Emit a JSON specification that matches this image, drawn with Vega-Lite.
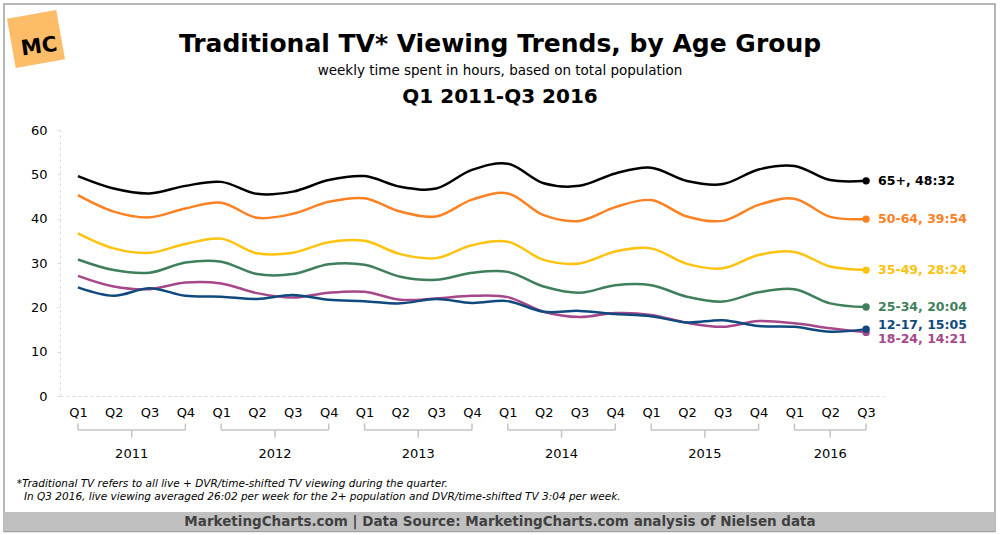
{
  "$schema": "https://vega.github.io/schema/vega-lite/v6.json",
  "width": 824,
  "height": 266,
  "autosize": "none",
  "padding": {"left": 60, "top": 130, "right": 116, "bottom": 139},
  "background": "white",
  "title": {
    "text": "Traditional TV* Viewing Trends, by Age Group",
    "subtitle": "weekly time spent in hours, based on total population",
    "anchor": "middle",
    "frame": "group",
    "dx": 28,
    "offset": -74,
    "font": "DejaVu Sans",
    "fontSize": 25,
    "fontWeight": "bold",
    "color": "#000000",
    "subtitleFont": "DejaVu Sans",
    "subtitleFontSize": 13.5,
    "subtitleColor": "#000000",
    "subtitlePadding": 7
  },
  "config": {
    "view": {"stroke": null},
    "font": "DejaVu Sans",
    "axis": {"labelFont": "DejaVu Sans", "labelColor": "#000000"}
  },
  "resolve": {"scale": {"x": "independent", "y": "independent"}},
  "layer": [
    {
      "data": {"values": [{}]},
      "mark": {"type": "rect", "filled": false, "stroke": "#a0a0a0", "strokeWidth": 1.5},
      "encoding": {
        "x": {"datum": -1.063, "type": "quantitative", "scale": {"domain": [0.5, 23.5], "nice": false, "zero": false}, "axis": null},
        "x2": {"datum": 26.598},
        "y": {"datum": 88.42, "type": "quantitative", "scale": {"domain": [0, 60]}, "axis": null},
        "y2": {"datum": -30.56}
      }
    },
    {
      "data": {"values": [{}]},
      "mark": {"type": "rect", "color": "#c0c0c0"},
      "encoding": {
        "x": {"datum": -1.063, "type": "quantitative", "scale": {"domain": [0.5, 23.5], "nice": false, "zero": false}, "axis": null},
        "x2": {"datum": 26.598},
        "y": {"datum": -26.17, "type": "quantitative", "scale": {"domain": [0, 60]}, "axis": null},
        "y2": {"datum": -30.45}
      }
    },
    {
      "data": {"values": [{"text": "MarketingCharts.com | Data Source: MarketingCharts.com analysis of Nielsen data"}]},
      "mark": {"type": "text", "font": "DejaVu Sans", "fontSize": 13.5, "fontWeight": "bold", "color": "#404040", "align": "center", "baseline": "middle"},
      "encoding": {
        "x": {"datum": 12.782, "type": "quantitative", "scale": {"domain": [0.5, 23.5], "nice": false, "zero": false}, "axis": null},
        "y": {"datum": -28.35, "type": "quantitative", "scale": {"domain": [0, 60]}, "axis": null},
        "text": {"field": "text"}
      }
    },
    {
      "data": {"values": [{"text": "*Traditional TV refers to all live + DVR/time-shifted TV viewing during the quarter."}]},
      "mark": {"type": "text", "font": "DejaVu Sans", "fontSize": 10.5, "fontStyle": "italic", "color": "#000000", "align": "left", "baseline": "middle"},
      "encoding": {
        "x": {"datum": -0.709, "type": "quantitative", "scale": {"domain": [0.5, 23.5], "nice": false, "zero": false}, "axis": null},
        "y": {"datum": -19.85, "type": "quantitative", "scale": {"domain": [0, 60]}, "axis": null},
        "text": {"field": "text"}
      }
    },
    {
      "data": {"values": [{"text": "In Q3 2016, live viewing averaged 26:02 per week for the 2+ population and DVR/time-shifted TV 3:04 per week."}]},
      "mark": {"type": "text", "font": "DejaVu Sans", "fontSize": 10.5, "fontStyle": "italic", "color": "#000000", "align": "left", "baseline": "middle"},
      "encoding": {
        "x": {"datum": -0.505, "type": "quantitative", "scale": {"domain": [0.5, 23.5], "nice": false, "zero": false}, "axis": null},
        "y": {"datum": -22.85, "type": "quantitative", "scale": {"domain": [0, 60]}, "axis": null},
        "text": {"field": "text"}
      }
    },
    {
      "data": {"values": [{"text": "Q1 2011-Q3 2016"}]},
      "mark": {"type": "text", "font": "DejaVu Sans", "fontSize": 20, "fontWeight": "bold", "color": "#000000", "align": "center", "baseline": "middle"},
      "encoding": {
        "x": {"datum": 12.782, "type": "quantitative", "scale": {"domain": [0.5, 23.5], "nice": false, "zero": false}, "axis": null},
        "y": {"datum": 67.44, "type": "quantitative", "scale": {"domain": [0, 60]}, "axis": null},
        "text": {"field": "text"}
      }
    },
    {
      "data": {"values": [{}]},
      "mark": {"type": "point", "shape": "square", "filled": true, "opacity": 1, "color": "#fcbc68", "size": 2500, "angle": -10},
      "encoding": {
        "x": {"datum": -0.17, "type": "quantitative", "scale": {"domain": [0.5, 23.5], "nice": false, "zero": false}, "axis": null},
        "y": {"datum": 80.53, "type": "quantitative", "scale": {"domain": [0, 60]}, "axis": null}
      }
    },
    {
      "data": {"values": [{"text": "MC"}]},
      "mark": {"type": "text", "font": "DejaVu Sans", "fontSize": 21, "fontWeight": "bold", "color": "#000000", "align": "center", "baseline": "middle", "angle": -8},
      "encoding": {
        "x": {"datum": -0.08, "type": "quantitative", "scale": {"domain": [0.5, 23.5], "nice": false, "zero": false}, "axis": null},
        "y": {"datum": 78.7, "type": "quantitative", "scale": {"domain": [0, 60]}, "axis": null},
        "text": {"field": "text"}
      }
    },
    {
      "data": {
        "name": "years",
        "values": [
          {"year": "2011", "first": 1, "last": 4},
          {"year": "2012", "first": 5, "last": 8},
          {"year": "2013", "first": 9, "last": 12},
          {"year": "2014", "first": 13, "last": 16},
          {"year": "2015", "first": 17, "last": 20},
          {"year": "2016", "first": 21, "last": 23}
        ]
      },
      "transform": [{"calculate": "(datum.first + datum.last) / 2", "as": "mid"}],
      "layer": [
        {
          "mark": {"type": "rule", "color": "#c4c4c4", "strokeWidth": 1.5},
          "encoding": {
            "x": {"field": "first", "type": "quantitative", "scale": {"domain": [0.5, 23.5], "nice": false, "zero": false}, "axis": null},
            "x2": {"field": "last"},
            "y": {"datum": -7.67, "type": "quantitative", "scale": {"domain": [0, 60]}, "axis": null}
          }
        },
        {
          "mark": {"type": "rule", "color": "#c4c4c4", "strokeWidth": 1.5},
          "encoding": {
            "x": {"field": "first", "type": "quantitative", "scale": {"domain": [0.5, 23.5], "nice": false, "zero": false}, "axis": null},
            "y": {"datum": -6.2, "type": "quantitative", "scale": {"domain": [0, 60]}, "axis": null},
            "y2": {"datum": -7.67}
          }
        },
        {
          "mark": {"type": "rule", "color": "#c4c4c4", "strokeWidth": 1.5},
          "encoding": {
            "x": {"field": "last", "type": "quantitative", "scale": {"domain": [0.5, 23.5], "nice": false, "zero": false}, "axis": null},
            "y": {"datum": -6.2, "type": "quantitative", "scale": {"domain": [0, 60]}, "axis": null},
            "y2": {"datum": -7.67}
          }
        },
        {
          "mark": {"type": "rule", "color": "#c4c4c4", "strokeWidth": 1.5},
          "encoding": {
            "x": {"field": "mid", "type": "quantitative", "scale": {"domain": [0.5, 23.5], "nice": false, "zero": false}, "axis": null},
            "y": {"datum": -7.67, "type": "quantitative", "scale": {"domain": [0, 60]}, "axis": null},
            "y2": {"datum": -9.4}
          }
        },
        {
          "mark": {"type": "text", "font": "DejaVu Sans", "fontSize": 13, "color": "#000000", "align": "center", "baseline": "middle"},
          "encoding": {
            "x": {"field": "mid", "type": "quantitative", "scale": {"domain": [0.5, 23.5], "nice": false, "zero": false}, "axis": null},
            "y": {"datum": -13.15, "type": "quantitative", "scale": {"domain": [0, 60]}, "axis": null},
            "text": {"field": "year"}
          }
        }
      ]
    },
    {
      "data": {
        "values": [
          {"period": "2011 Q1", "group": "65+", "hours": 49.6},
          {"period": "2011 Q2", "group": "65+", "hours": 46.8},
          {"period": "2011 Q3", "group": "65+", "hours": 45.7},
          {"period": "2011 Q4", "group": "65+", "hours": 47.4},
          {"period": "2012 Q1", "group": "65+", "hours": 48.3},
          {"period": "2012 Q2", "group": "65+", "hours": 45.6},
          {"period": "2012 Q3", "group": "65+", "hours": 46.1},
          {"period": "2012 Q4", "group": "65+", "hours": 48.7},
          {"period": "2013 Q1", "group": "65+", "hours": 49.6},
          {"period": "2013 Q2", "group": "65+", "hours": 47.2},
          {"period": "2013 Q3", "group": "65+", "hours": 46.8},
          {"period": "2013 Q4", "group": "65+", "hours": 51.0},
          {"period": "2014 Q1", "group": "65+", "hours": 52.4},
          {"period": "2014 Q2", "group": "65+", "hours": 48.0},
          {"period": "2014 Q3", "group": "65+", "hours": 47.4},
          {"period": "2014 Q4", "group": "65+", "hours": 50.2},
          {"period": "2015 Q1", "group": "65+", "hours": 51.5},
          {"period": "2015 Q2", "group": "65+", "hours": 48.5},
          {"period": "2015 Q3", "group": "65+", "hours": 47.8},
          {"period": "2015 Q4", "group": "65+", "hours": 51.1},
          {"period": "2016 Q1", "group": "65+", "hours": 51.9},
          {"period": "2016 Q2", "group": "65+", "hours": 48.7},
          {"period": "2016 Q3", "group": "65+", "hours": 48.5333},
          {"period": "2011 Q1", "group": "50-64", "hours": 45.3},
          {"period": "2011 Q2", "group": "50-64", "hours": 41.6},
          {"period": "2011 Q3", "group": "50-64", "hours": 40.3},
          {"period": "2011 Q4", "group": "50-64", "hours": 42.3},
          {"period": "2012 Q1", "group": "50-64", "hours": 43.6},
          {"period": "2012 Q2", "group": "50-64", "hours": 40.2},
          {"period": "2012 Q3", "group": "50-64", "hours": 41.1},
          {"period": "2012 Q4", "group": "50-64", "hours": 43.8},
          {"period": "2013 Q1", "group": "50-64", "hours": 44.6},
          {"period": "2013 Q2", "group": "50-64", "hours": 41.6},
          {"period": "2013 Q3", "group": "50-64", "hours": 40.5},
          {"period": "2013 Q4", "group": "50-64", "hours": 44.3},
          {"period": "2014 Q1", "group": "50-64", "hours": 45.7},
          {"period": "2014 Q2", "group": "50-64", "hours": 40.8},
          {"period": "2014 Q3", "group": "50-64", "hours": 39.5},
          {"period": "2014 Q4", "group": "50-64", "hours": 42.6},
          {"period": "2015 Q1", "group": "50-64", "hours": 44.2},
          {"period": "2015 Q2", "group": "50-64", "hours": 40.5},
          {"period": "2015 Q3", "group": "50-64", "hours": 39.5},
          {"period": "2015 Q4", "group": "50-64", "hours": 43.1},
          {"period": "2016 Q1", "group": "50-64", "hours": 44.5},
          {"period": "2016 Q2", "group": "50-64", "hours": 40.4},
          {"period": "2016 Q3", "group": "50-64", "hours": 39.9},
          {"period": "2011 Q1", "group": "35-49", "hours": 36.7},
          {"period": "2011 Q2", "group": "35-49", "hours": 33.3},
          {"period": "2011 Q3", "group": "35-49", "hours": 32.3},
          {"period": "2011 Q4", "group": "35-49", "hours": 34.3},
          {"period": "2012 Q1", "group": "35-49", "hours": 35.5},
          {"period": "2012 Q2", "group": "35-49", "hours": 32.2},
          {"period": "2012 Q3", "group": "35-49", "hours": 32.3},
          {"period": "2012 Q4", "group": "35-49", "hours": 34.7},
          {"period": "2013 Q1", "group": "35-49", "hours": 35.0},
          {"period": "2013 Q2", "group": "35-49", "hours": 32.0},
          {"period": "2013 Q3", "group": "35-49", "hours": 31.1},
          {"period": "2013 Q4", "group": "35-49", "hours": 34.0},
          {"period": "2014 Q1", "group": "35-49", "hours": 34.8},
          {"period": "2014 Q2", "group": "35-49", "hours": 30.7},
          {"period": "2014 Q3", "group": "35-49", "hours": 29.9},
          {"period": "2014 Q4", "group": "35-49", "hours": 32.6},
          {"period": "2015 Q1", "group": "35-49", "hours": 33.3},
          {"period": "2015 Q2", "group": "35-49", "hours": 29.8},
          {"period": "2015 Q3", "group": "35-49", "hours": 28.8},
          {"period": "2015 Q4", "group": "35-49", "hours": 31.8},
          {"period": "2016 Q1", "group": "35-49", "hours": 32.5},
          {"period": "2016 Q2", "group": "35-49", "hours": 29.2},
          {"period": "2016 Q3", "group": "35-49", "hours": 28.4},
          {"period": "2011 Q1", "group": "25-34", "hours": 30.8},
          {"period": "2011 Q2", "group": "25-34", "hours": 28.4},
          {"period": "2011 Q3", "group": "25-34", "hours": 27.8},
          {"period": "2011 Q4", "group": "25-34", "hours": 30.1},
          {"period": "2012 Q1", "group": "25-34", "hours": 30.3},
          {"period": "2012 Q2", "group": "25-34", "hours": 27.5},
          {"period": "2012 Q3", "group": "25-34", "hours": 27.5},
          {"period": "2012 Q4", "group": "25-34", "hours": 29.7},
          {"period": "2013 Q1", "group": "25-34", "hours": 29.6},
          {"period": "2013 Q2", "group": "25-34", "hours": 26.9},
          {"period": "2013 Q3", "group": "25-34", "hours": 26.2},
          {"period": "2013 Q4", "group": "25-34", "hours": 27.8},
          {"period": "2014 Q1", "group": "25-34", "hours": 28.0},
          {"period": "2014 Q2", "group": "25-34", "hours": 24.7},
          {"period": "2014 Q3", "group": "25-34", "hours": 23.3},
          {"period": "2014 Q4", "group": "25-34", "hours": 25.0},
          {"period": "2015 Q1", "group": "25-34", "hours": 25.0},
          {"period": "2015 Q2", "group": "25-34", "hours": 22.4},
          {"period": "2015 Q3", "group": "25-34", "hours": 21.3},
          {"period": "2015 Q4", "group": "25-34", "hours": 23.4},
          {"period": "2016 Q1", "group": "25-34", "hours": 24.1},
          {"period": "2016 Q2", "group": "25-34", "hours": 20.9},
          {"period": "2016 Q3", "group": "25-34", "hours": 20.0667},
          {"period": "2011 Q1", "group": "18-24", "hours": 27.1},
          {"period": "2011 Q2", "group": "18-24", "hours": 24.7},
          {"period": "2011 Q3", "group": "18-24", "hours": 24.1},
          {"period": "2011 Q4", "group": "18-24", "hours": 25.6},
          {"period": "2012 Q1", "group": "18-24", "hours": 25.4},
          {"period": "2012 Q2", "group": "18-24", "hours": 23.2},
          {"period": "2012 Q3", "group": "18-24", "hours": 22.2},
          {"period": "2012 Q4", "group": "18-24", "hours": 23.3},
          {"period": "2013 Q1", "group": "18-24", "hours": 23.5},
          {"period": "2013 Q2", "group": "18-24", "hours": 21.7},
          {"period": "2013 Q3", "group": "18-24", "hours": 22.0},
          {"period": "2013 Q4", "group": "18-24", "hours": 22.6},
          {"period": "2014 Q1", "group": "18-24", "hours": 22.3},
          {"period": "2014 Q2", "group": "18-24", "hours": 19.0},
          {"period": "2014 Q3", "group": "18-24", "hours": 17.8},
          {"period": "2014 Q4", "group": "18-24", "hours": 18.7},
          {"period": "2015 Q1", "group": "18-24", "hours": 18.3},
          {"period": "2015 Q2", "group": "18-24", "hours": 16.5},
          {"period": "2015 Q3", "group": "18-24", "hours": 15.6},
          {"period": "2015 Q4", "group": "18-24", "hours": 16.9},
          {"period": "2016 Q1", "group": "18-24", "hours": 16.4},
          {"period": "2016 Q2", "group": "18-24", "hours": 15.3},
          {"period": "2016 Q3", "group": "18-24", "hours": 14.35},
          {"period": "2011 Q1", "group": "12-17", "hours": 24.5},
          {"period": "2011 Q2", "group": "12-17", "hours": 22.6},
          {"period": "2011 Q3", "group": "12-17", "hours": 24.3},
          {"period": "2011 Q4", "group": "12-17", "hours": 22.6},
          {"period": "2012 Q1", "group": "12-17", "hours": 22.4},
          {"period": "2012 Q2", "group": "12-17", "hours": 21.9},
          {"period": "2012 Q3", "group": "12-17", "hours": 22.8},
          {"period": "2012 Q4", "group": "12-17", "hours": 21.7},
          {"period": "2013 Q1", "group": "12-17", "hours": 21.4},
          {"period": "2013 Q2", "group": "12-17", "hours": 20.9},
          {"period": "2013 Q3", "group": "12-17", "hours": 21.9},
          {"period": "2013 Q4", "group": "12-17", "hours": 21.0},
          {"period": "2014 Q1", "group": "12-17", "hours": 21.4},
          {"period": "2014 Q2", "group": "12-17", "hours": 19.0},
          {"period": "2014 Q3", "group": "12-17", "hours": 19.2},
          {"period": "2014 Q4", "group": "12-17", "hours": 18.5},
          {"period": "2015 Q1", "group": "12-17", "hours": 18.0},
          {"period": "2015 Q2", "group": "12-17", "hours": 16.6},
          {"period": "2015 Q3", "group": "12-17", "hours": 17.1},
          {"period": "2015 Q4", "group": "12-17", "hours": 15.8},
          {"period": "2016 Q1", "group": "12-17", "hours": 15.6},
          {"period": "2016 Q2", "group": "12-17", "hours": 14.5},
          {"period": "2016 Q3", "group": "12-17", "hours": 15.0833}
        ]
      },
      "encoding": {
        "x": {
          "field": "period",
          "type": "ordinal",
          "scale": {"type": "point", "padding": 0.5},
          "axis": {
            "title": null,
            "labelExpr": "split(datum.label, ' ')[1]",
            "labelAngle": 0,
            "labelFontSize": 13,
            "labelPadding": 10,
            "ticks": false,
            "tickSize": 0,
            "domainColor": "#dddddd",
            "domainDash": [3, 3],
            "grid": false
          }
        },
        "y": {
          "field": "hours",
          "type": "quantitative",
          "scale": {"domain": [0, 60]},
          "axis": {
            "title": null,
            "orient": "left",
            "values": [0, 10, 20, 30, 40, 50, 60],
            "labelFontSize": 13,
            "labelPadding": 10,
            "tickSize": 3,
            "tickColor": "#dddddd",
            "domainColor": "#dddddd",
            "domainWidth": 1,
            "domainDash": [3, 3],
            "grid": false
          }
        },
        "color": {
          "field": "group",
          "type": "nominal",
          "legend": null,
          "scale": {
            "domain": ["65+", "50-64", "35-49", "25-34", "12-17", "18-24"],
            "range": ["#000000", "#fb8122", "#ffc20e", "#3f7f5b", "#10497e", "#a5478a"]
          }
        }
      },
      "layer": [
        {"mark": {"type": "line", "interpolate": "catmull-rom", "strokeWidth": 2.5}},
        {
          "transform": [{"filter": "datum.period === '2016 Q3'"}],
          "mark": {"type": "point", "filled": true, "opacity": 1, "size": 55}
        },
        {
          "transform": [
            {"filter": "datum.period === '2016 Q3' && datum.group !== '12-17' && datum.group !== '18-24'"},
            {"calculate": "round((datum.hours - floor(datum.hours)) * 60)", "as": "mins"},
            {"calculate": "datum.group + ', ' + floor(datum.hours) + ':' + (datum.mins < 10 ? '0' : '') + datum.mins", "as": "label"}
          ],
          "mark": {"type": "text", "align": "left", "baseline": "middle", "dx": 12, "fontSize": 12.5, "fontWeight": "bold", "font": "DejaVu Sans"},
          "encoding": {"text": {"field": "label"}}
        },
        {
          "transform": [
            {"filter": "datum.period === '2016 Q3' && datum.group === '12-17'"},
            {"calculate": "round((datum.hours - floor(datum.hours)) * 60)", "as": "mins"},
            {"calculate": "datum.group + ', ' + floor(datum.hours) + ':' + (datum.mins < 10 ? '0' : '') + datum.mins", "as": "label"}
          ],
          "mark": {"type": "text", "align": "left", "baseline": "middle", "dx": 12, "dy": -4, "fontSize": 12.5, "fontWeight": "bold", "font": "DejaVu Sans"},
          "encoding": {"text": {"field": "label"}}
        },
        {
          "transform": [
            {"filter": "datum.period === '2016 Q3' && datum.group === '18-24'"},
            {"calculate": "round((datum.hours - floor(datum.hours)) * 60)", "as": "mins"},
            {"calculate": "datum.group + ', ' + floor(datum.hours) + ':' + (datum.mins < 10 ? '0' : '') + datum.mins", "as": "label"}
          ],
          "mark": {"type": "text", "align": "left", "baseline": "middle", "dx": 12, "dy": 7, "fontSize": 12.5, "fontWeight": "bold", "font": "DejaVu Sans"},
          "encoding": {"text": {"field": "label"}}
        }
      ]
    }
  ]
}
